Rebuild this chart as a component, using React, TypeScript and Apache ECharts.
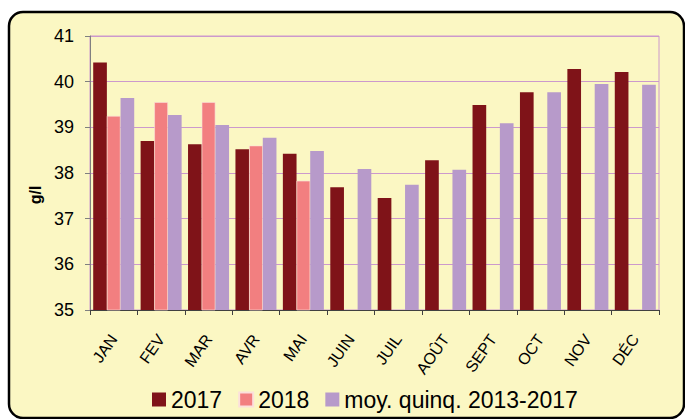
import React, { useEffect, useRef } from "react";
import * as echarts from "echarts";

const months = ["JAN", "FEV", "MAR", "AVR", "MAI", "JUIN", "JUIL", "AOÛT", "SEPT", "OCT", "NOV", "DÉC"];
const values2017 = [40.42, 38.7, 38.63, 38.52, 38.42, 37.69, 37.45, 38.28, 39.49, 39.77, 40.28, 40.21];
const values2018 = [39.25, 39.55, 39.55, 38.6, 37.83, null, null, null, null, null, null, null];
const valuesMoy = [39.64, 39.27, 39.05, 38.77, 38.48, 38.09, 37.74, 38.07, 39.09, 39.77, 39.95, 39.93];
const seriesNames = ["2017", "2018", "moy. quinq. 2013-2017"];
const yAxisName = "g/l";
const yMin = 35;
const yMax = 41;
const yStep = 1;

const FONT = "'Liberation Sans', Arial, sans-serif";

export default function App() {
  const ref = useRef<HTMLDivElement>(null);
  useEffect(() => {
    if (!ref.current) return;
    const chart = echarts.init(ref.current, null, { renderer: "svg" });
    chart.setOption({
      animation: false,
      backgroundColor: "#ffffff",
      textStyle: { fontFamily: FONT },
      graphic: [
        {
          type: "rect",
          z: -10,
          shape: { x: 9, y: 12, width: 675, height: 406, r: 14 },
          style: { fill: "#FBF7C3", stroke: "#000000", lineWidth: 2.5 },
        },
      ],
      legend: {
        left: 147,
        top: 383,
        itemWidth: 14,
        itemHeight: 14,
        itemGap: 16,
        icon: "rect",
        textStyle: { fontSize: 23, color: "#000", fontFamily: FONT },
        data: seriesNames,
      },
      grid: {
        left: 90,
        right: 26,
        top: 36,
        bottom: 109,
        show: true,
        borderColor: "#CC99CC",
        borderWidth: 1,
        backgroundColor: "transparent",
      },
      xAxis: {
        type: "category",
        data: months,
        axisLine: { lineStyle: { color: "#404040", width: 1 } },
        axisTick: { show: true, length: 5, lineStyle: { color: "#404040" } },
        axisLabel: { rotate: 55, fontSize: 16, color: "#000", margin: 26, interval: 0 },
      },
      yAxis: {
        type: "value",
        min: yMin,
        max: yMax,
        interval: yStep,
        name: yAxisName,
        nameLocation: "middle",
        nameRotate: 90,
        nameGap: 34,
        nameTextStyle: { fontSize: 16, fontWeight: "bold", color: "#000", padding: [0, 44, 0, 0] },
        axisLine: { show: true, lineStyle: { color: "#808080" } },
        axisTick: { show: true, length: 5, lineStyle: { color: "#808080" } },
        axisLabel: { fontSize: 18, color: "#000", margin: 16 },
        splitLine: { lineStyle: { color: "#CC99CC", width: 1 } },
      },
      series: [
        {
          name: seriesNames[0],
          type: "bar",
          data: values2017,
          itemStyle: { color: "#7F1318" },
          barGap: "0%",
          barCategoryGap: "13.5%",
        },
        {
          name: seriesNames[1],
          type: "bar",
          data: values2018,
          itemStyle: { color: "#F27F80", borderColor: "#FCE0DC", borderWidth: 0.6 },
          barGap: "0%",
          barCategoryGap: "13.5%",
        },
        {
          name: seriesNames[2],
          type: "bar",
          data: valuesMoy,
          itemStyle: { color: "#B79ACA" },
          barGap: "0%",
          barCategoryGap: "13.5%",
        },
      ],
    });
    return () => chart.dispose();
  }, []);
  return (
    <div
      ref={ref}
      style={{ position: "fixed", left: 0, top: 0, width: 685, height: 419 }}
    />
  );
}
